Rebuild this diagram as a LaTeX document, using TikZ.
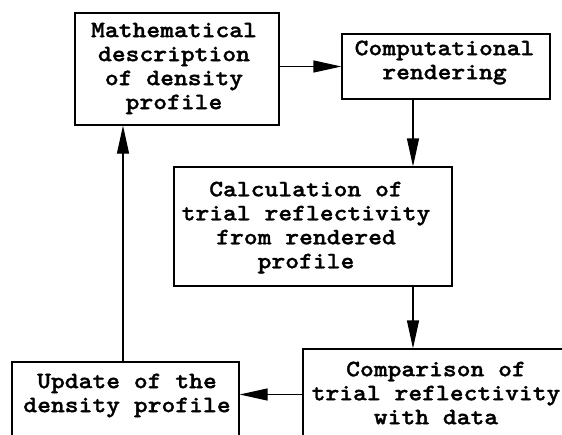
\documentclass[tikz,border=0pt]{standalone}
\usepackage{fontspec}
% bold slab typewriter face, widened to a Courier-like set width
\newfontfamily\boxfont{lmmonolt10-bold.otf}[FakeStretch=1.12,FakeBold=1.3]
\usetikzlibrary{arrows.meta,calc}

\begin{document}
\begin{tikzpicture}[x=1pt,y=-1pt,
  box/.style={draw,line width=1.2pt,inner sep=0pt,rectangle},
  txt/.style={align=center,font=\boxfont\fontsize{23.5}{24}\selectfont,inner sep=0pt},
  arr/.style={line width=1.2pt,-{Triangle[length=28pt,width=12pt]}}]
\useasboundingbox (0,0) rectangle (562,434);
\clip (0,0) rectangle (562,434);

% boxes
\node[box,minimum width=204pt,minimum height=112pt] (A) at (177,69) {};
\node[box,minimum width=208pt,minimum height=65pt]  (B) at (446,66.5) {};
\node[box,minimum width=278pt,minimum height=119pt] (C) at (313,226.5) {};
\node[box,minimum width=266pt,minimum height=91pt]  (D) at (436,394.5) {};
\node[box,minimum width=227pt,minimum height=83pt]  (E) at (125.5,403.5) {};

% labels
\node[txt] (tA) at (174,68.5) {Mathematical\\description\\of density\\profile};
\node[txt] (tB) at (444.5,62.5) {Computational\\rendering};
\node[txt] (tC) at (306,227.5) {Calculation of\\trial reflectivity\\from rendered\\profile};
\node[txt] (tD) at (436,393) {Comparison of\\trial reflectivity\\with data};
\node[txt] (tE) at (127,395.5) {Update of the\\density profile};

% connectors
\draw[arr] (A.east |- B.west) -- (B.west);
\draw[arr] ([xshift=-33pt]B.south) -- ([xshift=-33pt]B.south |- C.north);
\draw[arr] ([xshift=-23pt]D.north |- C.south) -- ([xshift=-23pt]D.north);
\draw[arr] (D.west) -- (D.west -| E.east);
\draw[arr] ([xshift=-2.5pt]E.north) -- ([xshift=-2.5pt]E.north |- A.south);
\end{tikzpicture}
\end{document}
